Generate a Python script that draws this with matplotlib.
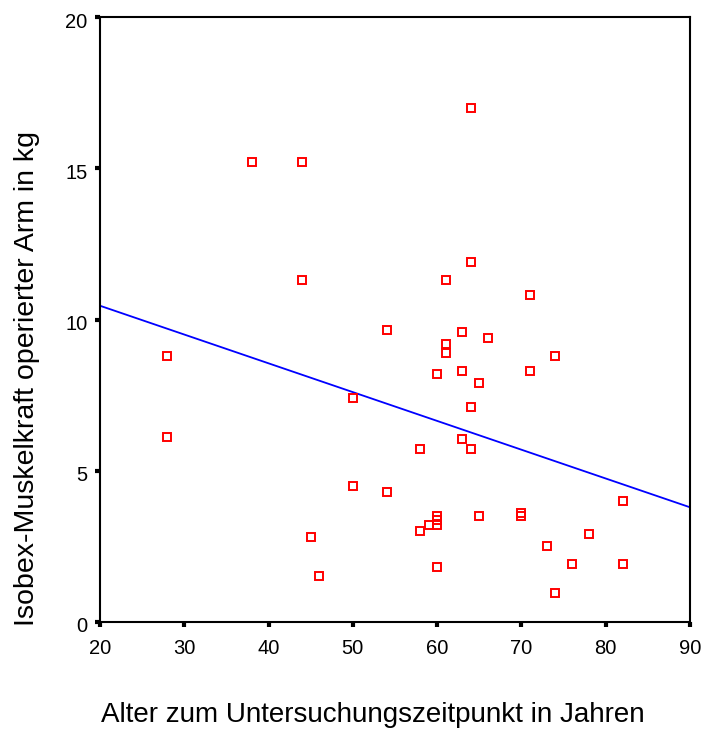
import matplotlib.pyplot as plt
import matplotlib.transforms as mtransforms
import numpy as np

plt.rcParams["font.family"] = ["Liberation Sans", "DejaVu Sans"]

# age at examination (years) and isobex strength of the operated arm (kg)
alter = [38, 44, 64, 64, 61, 44, 71, 54, 63, 66, 61, 61, 74, 28, 60, 63, 71,
         65, 50, 64, 28, 63, 58, 64, 50, 54, 82, 60, 65, 70, 70, 60, 60, 59,
         58, 78, 45, 73, 76, 82, 60, 46, 74]
kraft = [15.2, 15.2, 17.0, 11.9, 11.3, 11.3, 10.8, 9.65, 9.6, 9.4, 9.2, 8.9,
         8.8, 8.8, 8.2, 8.3, 8.3, 7.9, 7.4, 7.1, 6.1, 6.05, 5.7, 5.7, 4.5,
         4.3, 4.0, 3.5, 3.5, 3.6, 3.5, 3.35, 3.2, 3.2, 3.0, 2.9, 2.8, 2.5,
         1.9, 1.9, 1.8, 1.5, 0.95]

x_ticks = [20, 30, 40, 50, 60, 70, 80, 90]
y_ticks = [0, 5, 10, 15, 20]

fig = plt.figure(figsize=(7.05, 7.29), dpi=100)
ax = fig.add_axes([100 / 705, 1 - 621.7 / 729, 590 / 705, 604.4 / 729])

ax.plot(alter, kraft, linestyle="none", marker="s", markersize=5.6,
        markerfacecolor="none", markeredgecolor="#ff0000",
        markeredgewidth=1.4, zorder=3)

# linear regression line across the full x range
slope, intercept = np.polyfit(alter, kraft, 1)
xs = np.array([x_ticks[0], x_ticks[-1]])
ax.plot(xs, slope * xs + intercept, color="#0000ff", linewidth=1.3, zorder=2)

ax.set_xlim(20, 90)
ax.set_ylim(0, 20)
ax.set_xticks(x_ticks)
ax.set_yticks(y_ticks)
ax.tick_params(axis="both", direction="out", length=3.6, width=3,
               labelsize=14.5)
ax.tick_params(axis="x", pad=8.5)
ax.tick_params(axis="y", pad=5.5)

# nudge the y tick labels slightly downward
shift = mtransforms.ScaledTranslation(0, -3 / 100, fig.dpi_scale_trans)
for lab in ax.get_yticklabels():
    lab.set_transform(lab.get_transform() + shift)

for spine in ax.spines.values():
    spine.set_linewidth(1.5)

ax.set_xlabel("Alter zum Untersuchungszeitpunkt in Jahren", fontsize=20)
ax.xaxis.set_label_coords(372.8 / 705, 1 - 721.7 / 729,
                          transform=fig.transFigure)
ax.xaxis.label.set_verticalalignment("baseline")

ax.set_ylabel("Isobex-Muskelkraft operierter Arm in kg", fontsize=20.5)
ax.yaxis.set_label_coords(34 / 705, 1 - 378.5 / 729,
                          transform=fig.transFigure)
ax.yaxis.label.set_verticalalignment("baseline")

fig.savefig("out.png", dpi=100)
